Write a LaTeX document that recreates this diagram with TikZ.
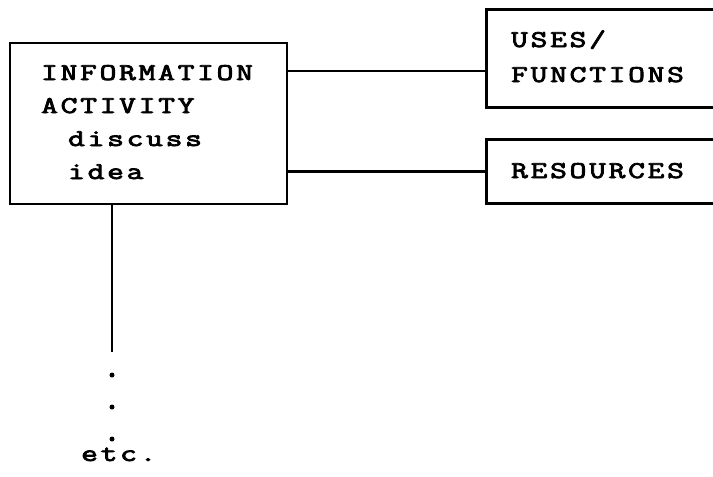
\documentclass[tikz,border=0pt]{standalone}
\usepackage{graphicx}
\usepackage{fontspec}
\newfontfamily\typefont{Latin Modern Mono}[FakeBold=3]
\newlength\pitch
\setlength\pitch{19.5pt}
\def\ml#1{\mlx#1\relax}
\def\mlx#1{\ifx\relax#1\else\makebox[\pitch][l]{\scalebox{1.35}[1]{#1}}\expandafter\mlx\fi}
\tikzset{
  txt/.style={font=\typefont\fontsize{24}{28}\selectfont, inner sep=0pt, anchor=base west},
  frame/.style={draw, line width=2.7pt, rectangle, inner sep=0pt},
  conn/.style={line width=2.7pt},
  dotnode/.style={circle, fill, inner sep=0pt, minimum size=5pt}
}
\begin{document}
\begin{tikzpicture}[x=1pt, y=-1pt]
\useasboundingbox (0,0) rectangle (713,477);
\clip (0,0) rectangle (713,477);
% boxes
\node[frame, minimum width=277pt, minimum height=161pt] (info) at (148.5,123.5) {};
\node[frame, minimum width=250pt, minimum height=98pt, anchor=north west] (uses) at (485,8) {};
\node[frame, minimum width=250pt, minimum height=64pt, anchor=north west] (res) at (485,138) {};
% texts
\node[txt] (t1) at (41,80) {\ml{INFORMATION}};
\node[txt] (t2) at (41,113) {\ml{ACTIVITY}};
\node[txt] (t3) at (68,146) {\ml{discuss}};
\node[txt] (t4) at (68,179) {\ml{idea}};
\node[txt] (t5) at (511,47) {\ml{USES/}};
\node[txt] (t6) at (511,82) {\ml{FUNCTIONS}};
\node[txt] (t7) at (511,178) {\ml{RESOURCES}};
\node[txt] (t8) at (81,461) {\ml{etc.}};
% dots
\node[dotnode] (d1) at (112,375) {};
\node[dotnode] (d2) at (112,407) {};
\node[dotnode] (d3) at (112,439) {};
\coordinate (vend) at (112,352);
\coordinate (c1) at (287,71);
% connectors
\draw[conn] (info.east |- c1) -- (uses.west |- c1);
\draw[conn] (info.east |- res.west) -- (res.west);
\draw[conn] (info.south -| vend) -- (vend);
\end{tikzpicture}
\end{document}
